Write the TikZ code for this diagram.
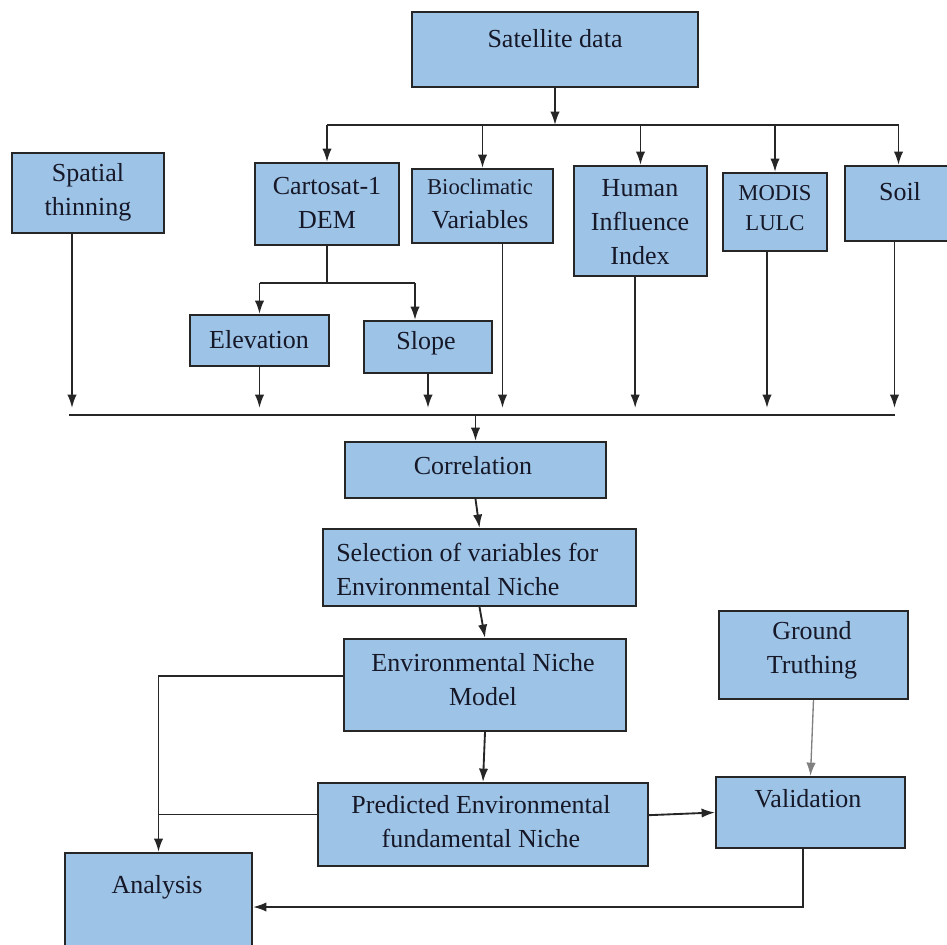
\documentclass[tikz,border=0pt]{standalone}
\usepackage{fontspec}
\setmainfont{Liberation Serif}
\usepackage{tikz}
\usetikzlibrary{arrows.meta}

\definecolor{boxblue}{RGB}{157,195,230}
\definecolor{edge}{RGB}{38,38,38}
\definecolor{ink}{RGB}{22,24,40}

\tikzset{
  box/.style={draw=edge, fill=boxblue, line width=1.6pt, inner sep=0pt},
  txt/.style={text=ink, inner sep=0pt, align=center, font=\fontsize{19.5}{25.5}\selectfont},
  smalltxt/.style={txt, font=\fontsize{17}{22.5}\selectfont},
  line/.style={draw=edge, line width=1.4pt},
  arr/.style={line, -{Latex[length=10pt,width=7pt]}}
}

\begin{document}
\begin{tikzpicture}[x=0.75pt,y=0.75pt,yscale=-1,xscale=1]
\useasboundingbox (0,0) rectangle (947,945);

%Shape: Rectangle [satellite]
\node [box, minimum width=214.5pt, minimum height=56.25pt] (sat) at (555,49.5) {};
%Shape: Rectangle [second row]
\node [box, minimum width=114pt, minimum height=60pt] (spat) at (88,193) {};
\node [box, minimum width=108pt, minimum height=61.5pt] (carto) at (327,204) {};
\node [box, minimum width=105.75pt, minimum height=55.5pt] (bio) at (482.5,206) {};
\node [box, minimum width=99.75pt, minimum height=82.5pt] (human) at (640.5,221) {};
\node [box, minimum width=78pt, minimum height=58.5pt] (modis) at (775,212) {};
\node [box, minimum width=80.25pt, minimum height=56.25pt] (soil) at (898.5,203.5) {};
%Shape: Rectangle [dem products]
\node [box, minimum width=104.25pt, minimum height=38.25pt] (elev) at (259.5,340.5) {};
\node [box, minimum width=96pt, minimum height=39pt] (slope) at (428,347) {};
%Shape: Rectangle [model chain]
\node [box, minimum width=195.75pt, minimum height=42pt] (corr) at (475.5,470) {};
\node [box, minimum width=234.75pt, minimum height=57.75pt] (sel) at (479.5,567.5) {};
\node [box, minimum width=211.5pt, minimum height=69pt] (enm) at (485,685) {};
\node [box, minimum width=247.5pt, minimum height=62.25pt] (pred) at (483,824.5) {};
\node [box, minimum width=141.75pt, minimum height=66pt] (gt) at (813.5,655) {};
\node [box, minimum width=141.75pt, minimum height=53.25pt] (val) at (810.5,812.5) {};
\node [box, minimum width=140.25pt, minimum height=81pt] (ana) at (158.5,907) {};

% Text Node
\node [txt] (satT) at (555,39) {Satellite data};
% Text Node
\node [txt] (spatT) at (88,192) {Spatial\\thinning};
% Text Node
\node [txt] (cartoT) at (327,203) {Cartosat-1\\DEM};
% Text Node
\node [txt] (bioT) at (480,204) {{\fontsize{17}{25.5}\selectfont Bioclimatic}\\Variables};
% Text Node
\node [txt] (humanT) at (640,222) {Human\\Influence\\Index};
% Text Node
\node [smalltxt] (modisT) at (775,208) {MODIS\\LULC};
% Text Node
\node [txt] (soilT) at (900,192) {Soil};
% Text Node
\node [txt] (elevT) at (259,340) {Elevation};
% Text Node
\node [txt] (slopeT) at (426,343) {Slope};
% Text Node
\node [txt] (corrT) at (473,466) {Correlation};
% Text Node
\node [txt, align=left, anchor=west] (selT) at (336,569) {Selection of variables for\\Environmental Niche};
% Text Node
\node [txt] (enmT) at (483,680) {Environmental Niche\\Model};
% Text Node
\node [txt] (predT) at (481,822) {Predicted Environmental\\fundamental Niche};
% Text Node
\node [txt] (gtT) at (812,650) {Ground\\Truthing};
% Text Node
\node [txt] (valT) at (808,799) {Validation};
% Text Node
\node [txt] (anaT) at (157,887) {Analysis};

% bus levels
\coordinate (busT) at (0,125);
\coordinate (cartoJ) at (0,283);
\coordinate (tipB) at (0,408);
\coordinate (busB) at (0,415);
\coordinate (slopeIn) at (415,283);

%Straight Lines [satellite to inputs]
\draw [arr] (sat.south) -- (sat.south |- busT);
\draw [line] (carto.north |- busT) -- (soil.north |- busT);
\foreach \n in {carto,bio,human,modis,soil}
  \draw [arr] (\n.north |- busT) -- (\n.north);

%Straight Lines [dem split]
\draw [line] (carto.south) -- (carto.south |- cartoJ);
\draw [line] (elev.north |- cartoJ) -- (slopeIn);
\draw [arr] (elev.north |- cartoJ) -- (elev.north);
\draw [arr] (slopeIn) -- (slopeIn |- slope.north);

%Straight Lines [inputs to correlation]
\foreach \n/\s in {spat/-12,elev/0,slope/0,bio/15,human/-4,modis/-6,soil/-3} {
  \coordinate (o\n) at ([xshift=\s pt]\n.south);
  \draw [arr] (o\n) -- (o\n |- tipB);
}
\draw [line] ([xshift=-2pt]ospat |- busB) -- (osoil |- busB);
\draw [arr] (corr.north |- busB) -- (corr.north);

%Straight Lines [model chain]
\draw [arr] (corr.south) -- (sel.north);
\draw [arr] (sel.south) -- (enm.north);
\draw [arr] (enm.south) -- (pred.north);
\draw [arr, draw=gray, line width=1pt] (gt.south) -- (val.north);
\draw [arr] ([yshift=2pt]pred.east |- val.west) -- (val.west);

%Straight Lines [to analysis]
\coordinate (enmOut) at ([yshift=-6.75pt]enm.west);
\coordinate (predOut) at ([yshift=-7.5pt]pred.west);
\coordinate (valOut) at ([xshift=-5.6pt]val.south);
\draw [arr] (enmOut) -| (ana.north);
\draw [line] (predOut) -- (predOut -| ana.north);
\draw [arr] (valOut) |- (ana.east);

\end{tikzpicture}
\end{document}
